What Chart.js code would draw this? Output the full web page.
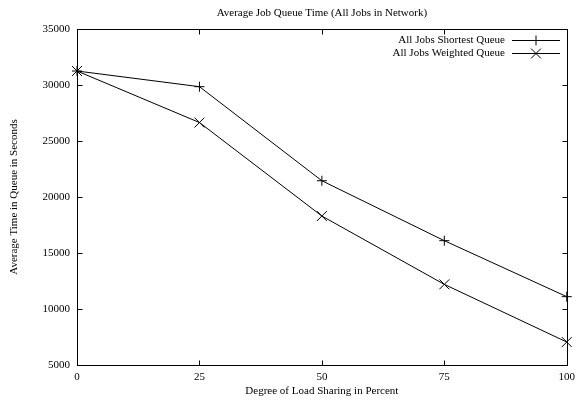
<!DOCTYPE html>
<html>
<head>
<meta charset="utf-8">
<script src="https://cdn.jsdelivr.net/npm/chart.js@4"></script>
<style>
  html, body { margin: 0; padding: 0; background: #fff; }
  #wrap { width: 581px; height: 400px; }
</style>
</head>
<body>
<div id="wrap"><canvas id="myChart" width="581" height="400"></canvas></div>
<script>
// chart data
var loadSharing = [0, 25, 50, 75, 100];
var shortestQueue = [31250, 29850, 21450, 16100, 11100];
var weightedQueue = [31250, 26650, 18300, 12200, 7050];
var xTicks = [0, 25, 50, 75, 100];
var yTicks = [5000, 10000, 15000, 20000, 25000, 30000, 35000];

var chartTitle = "Average Job Queue Time (All Jobs in Network)";
var xTitle = "Degree of Load Sharing in Percent";
var yTitle = "Average Time in Queue in Seconds";
var seriesNames = ["All Jobs Shortest Queue", "All Jobs Weighted Queue"];

var FONT = "'Liberation Serif', 'DejaVu Serif', serif";
Chart.defaults.color = "#000";
Chart.defaults.font.family = FONT;
Chart.defaults.font.size = 11;

function toPoints(xs, ys) {
    return xs.map(function (x, i) { return { x: x, y: ys[i] }; });
}

// gnuplot-like frame, inward ticks, title and legend
var gnuplotFrame = {
    id: "gnuplotFrame",
    afterDraw: function (chart) {
        var ctx = chart.ctx;
        var a = chart.chartArea;
        var xs = chart.scales.x, ys = chart.scales.y;
        var L = Math.round(a.left) + 0.5, R = Math.round(a.right) + 0.5;
        var T = Math.round(a.top) + 0.5, B = Math.round(a.bottom) + 0.5;
        ctx.save();
        ctx.strokeStyle = "#000";
        ctx.lineWidth = 1;
        ctx.strokeRect(L, T, R - L, B - T);
        ctx.beginPath();
        xTicks.forEach(function (v) {
            var px = Math.round(xs.getPixelForValue(v)) + 0.5;
            ctx.moveTo(px, B); ctx.lineTo(px, B - 5);
            ctx.moveTo(px, T); ctx.lineTo(px, T + 5);
        });
        yTicks.forEach(function (v) {
            var py = Math.round(ys.getPixelForValue(v)) + 0.5;
            ctx.moveTo(L, py); ctx.lineTo(L + 5, py);
            ctx.moveTo(R, py); ctx.lineTo(R - 5, py);
        });
        ctx.stroke();

        // title, centred over the plot box
        ctx.fillStyle = "#000";
        ctx.font = "11px " + FONT;
        ctx.textAlign = "center";
        ctx.textBaseline = "middle";
        ctx.fillText(chartTitle, (a.left + a.right) / 2, 13);

        // legend
        var rows = [40, 53];
        var styles = ["cross", "crossRot"];
        var radii = [5, 7];
        ctx.textAlign = "right";
        rows.forEach(function (y, i) {
            ctx.fillText(seriesNames[i], 505, y + 0.5);
            ctx.beginPath();
            ctx.moveTo(512, y + 0.5);
            ctx.lineTo(560, y + 0.5);
            ctx.stroke();
            Chart.helpers.drawPoint(ctx, { pointStyle: styles[i], radius: radii[i], borderWidth: 1 }, 536, y + 0.5);
        });
        ctx.restore();
    }
};

new Chart(document.getElementById("myChart"), {
    type: "line",
    data: {
        datasets: [{
            label: seriesNames[0],
            data: toPoints(loadSharing, shortestQueue),
            borderColor: "#000",
            borderWidth: 1,
            pointStyle: "cross",
            pointRadius: 5,
            pointBorderWidth: 1,
            pointBorderColor: "#000",
            tension: 0,
            clip: false
        }, {
            label: seriesNames[1],
            data: toPoints(loadSharing, weightedQueue),
            borderColor: "#000",
            borderWidth: 1,
            pointStyle: "crossRot",
            pointRadius: 7,
            pointBorderWidth: 1,
            pointBorderColor: "#000",
            tension: 0,
            clip: false
        }]
    },
    options: {
        responsive: false,
        animation: false,
        layout: { padding: { top: 29, right: 13, left: 0, bottom: 0 } },
        plugins: {
            legend: { display: false },
            title: { display: false },
            tooltip: { enabled: false }
        },
        scales: {
            x: {
                type: "linear",
                min: 0, max: 100,
                afterFit: function (s) { s.height = 35; },
                afterBuildTicks: function (s) { s.ticks = xTicks.map(function (v) { return { value: v }; }); },
                grid: { display: false, drawTicks: false },
                border: { display: false },
                ticks: { padding: 6, maxRotation: 0, callback: function (v) { return String(v); } },
                title: { display: true, text: xTitle, padding: { top: 0, bottom: 2 } }
            },
            y: {
                type: "linear",
                min: 5000, max: 35000,
                afterFit: function (s) { s.width = 77; },
                afterBuildTicks: function (s) { s.ticks = yTicks.map(function (v) { return { value: v }; }); },
                grid: { display: false, drawTicks: false },
                border: { display: false },
                ticks: { padding: 7, callback: function (v) { return String(v); } },
                title: { display: true, text: yTitle, padding: { top: 8, bottom: 0 } }
            }
        }
    },
    plugins: [gnuplotFrame]
});
</script>
</body>
</html>
